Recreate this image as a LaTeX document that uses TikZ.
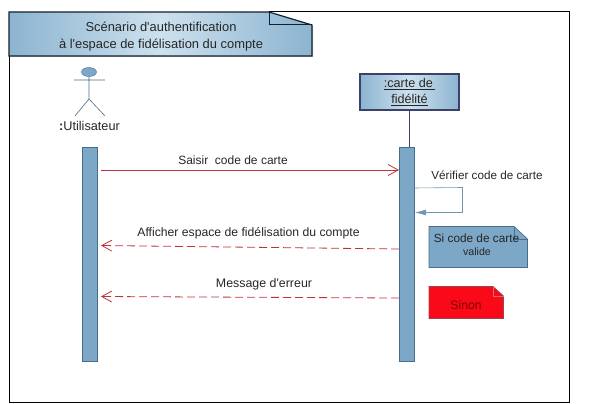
\documentclass[tikz,border=0pt]{standalone}
\usepackage{fontspec}
\setmainfont{Liberation Sans}[Ligatures=TeXOff]
\usetikzlibrary{arrows.meta,shadows,shapes.geometric}
\definecolor{barblue}{RGB}{125,167,198}
\definecolor{bluedark}{RGB}{70,110,140}
\definecolor{paleblue}{RGB}{205,225,238}
\definecolor{midblue}{RGB}{140,180,208}
\definecolor{navy}{RGB}{60,65,105}
\definecolor{msgred}{RGB}{190,50,60}
\definecolor{notered}{RGB}{250,10,25}
\begin{document}
\begin{tikzpicture}[
        x=1pt, y=-1pt,
        txt/.style={font=\fontsize{12}{14}\selectfont, text=black!85, inner sep=0pt, align=center},
        bar/.style={
        rectangle, draw=bluedark, fill=barblue,
        inner sep=0pt, minimum width=15.5pt, minimum height=214pt},
        msg/.style={draw=msgred, line width=0.8pt, -{Straight Barb[length=10pt,width=11pt]}},
        reply/.style={msg, dashed, dash pattern=on 8pt off 4pt},
        actor/.style={draw=bluedark, line width=0.6pt},
        ]

        % cadre
        \useasboundingbox (0,0) rectangle (589,404);
        \draw[black, line width=0.8pt] (9,56) -- (9,402) -- (569,402) -- (569,11) -- (269,11);

        % titre
        \draw[draw=black!70!bluedark, line width=1.2pt, drop shadow={shadow xshift=1pt, shadow yshift=-1pt, opacity=0.4},
              left color=midblue, right color=midblue, middle color=paleblue]
             (9,12) -- (269,12) -- (312,25) -- (312,56) -- (9,56) -- cycle;
        \draw[draw=black!70!bluedark, line width=1pt] (269,12) -- (269,25) -- (312,25);
        \node (titre) [txt, font=\fontsize{12.9}{16.5}\selectfont] at (161,36.5)
             {Scénario d'authentification\\à l'espace de fidélisation du compte};

        % acteur
        \node (tete) [ellipse, draw=bluedark, fill=barblue, minimum width=15pt, minimum height=9pt, inner sep=0pt] at (89,72){};
        \coordinate (bassin) at (89,99);
        \coordinate (mainG) at (74,80);
        \coordinate (mainD) at (105,80);
        \coordinate (piedG) at (75,116);
        \coordinate (piedD) at (105,116);
        \draw[actor] (tete) -- (bassin) (mainG) -- (mainD) (bassin) -- (piedG) (bassin) -- (piedD);
        \node (user) [txt, font=\fontsize{12.7}{15}\selectfont] at (89.5,125.5){\textbf{:}Utilisateur};

        % lignes de vie
        \node (barU) [bar] at (89.5,254){};
        \node (barC) [bar] at (406.5,254.5){};
        \node (carte) [rectangle, draw=navy, line width=1.2pt, drop shadow={shadow xshift=1pt, shadow yshift=-1pt, opacity=0.4},
              left color=midblue, right color=midblue, middle color=paleblue,
              minimum width=99pt, minimum height=36pt, inner sep=0pt,
              txt, font=\fontsize{12.6}{15.5}\selectfont] at (409.5,92)
             {\underline{:carte de\,}\\\underline{fidélité}};
        \draw[navy, line width=1.4pt] (carte.south) -- (carte.south |- barC.north);

        % messages
        \coordinate (m1a) at (101,170);
        \coordinate (m1b) at (399,170);
        \coordinate (m2a) at (399,249);
        \coordinate (m2b) at (101,245.5);
        \coordinate (m3a) at (399,298);
        \coordinate (m3b) at (101,296.5);
        \draw[msg] (m1a) -- (m1b);
        \draw[reply] (m2a) -- (m2b);
        \draw[reply] (m3a) -- (m3b);
        \node (t1) [txt] at (233,160){Saisir\ \ code de carte};
        \node (t2) [txt, font=\fontsize{12.2}{14}\selectfont] at (248.5,233){Afficher espace de fidélisation du compte};
        \node (t3) [txt, font=\fontsize{12.4}{14}\selectfont] at (264,284){Message d'erreur};

        % appel reflexif
        \coordinate (s1) at (414,188);
        \coordinate (s2) at (462.5,187.5);
        \coordinate (s3) at (462.5,212.5);
        \coordinate (s4) at (415,212.5);
        \draw[barblue!90!black, line width=0.6pt, -{Latex[length=11pt,width=6pt]}] (s1) -- (s2) -- (s3) -- (s4);
        \node (t4) [txt, font=\fontsize{11.7}{14}\selectfont] at (487,175){Vérifier code de carte};

        % notes
        \draw[draw=bluedark, fill=barblue, line width=0.7pt] (429,226.5) -- (514,226.5) -- (527.5,239) -- (527.5,267.5) -- (429,267.5) -- cycle;
        \draw[draw=bluedark, line width=0.5pt] (514,226.5) -- (514,239) -- (527.5,239);
        \node (si) [txt, font=\fontsize{11.8}{14}\selectfont] at (476.5,238){Si code de carte};
        \node (valide) [txt, font=\fontsize{10.6}{12}\selectfont] at (477,252){valide};

        \draw[draw=msgred!70!bluedark, fill=notered, line width=0.7pt] (429,286.5) -- (493,286.5) -- (503.5,296) -- (503.5,318.5) -- (429,318.5) -- cycle;
        \draw[draw=msgred!70!white, line width=0.5pt] (493,286.5) -- (493,296) -- (503.5,296);
        \node (sinon) [txt, text=red!50!black, font=\fontsize{12.2}{14}\selectfont] at (466,305.5){Sinon};
\end{tikzpicture}
\end{document}
